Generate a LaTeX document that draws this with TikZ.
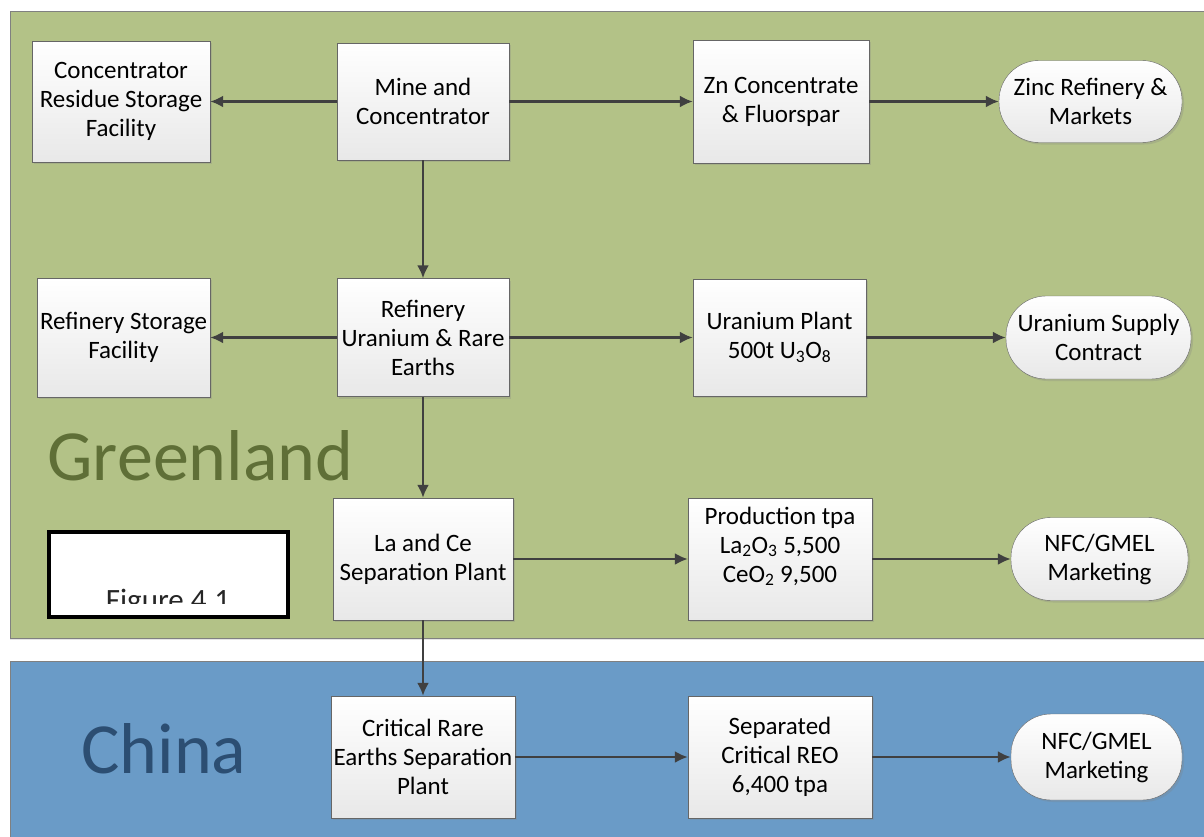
\documentclass[tikz,border=0pt]{standalone}
\usepackage{fontspec}
\setmainfont{Carlito}
\usetikzlibrary{arrows.meta,shadows}

\definecolor{panelgreen}{HTML}{B3C287}
\definecolor{greentext}{HTML}{5F6F37}
\definecolor{panelblue}{HTML}{6A9BC7}
\definecolor{bluetext}{HTML}{2C4E72}
\definecolor{arrowgray}{HTML}{404040}

\begin{document}
\begin{tikzpicture}[x=1pt,y=-1pt,
  box/.style={draw=black!60, top color=white, bottom color=black!9,
    drop shadow={shadow xshift=2pt,shadow yshift=-2pt,opacity=0.25},
    align=center, inner sep=1pt, text=black,
    font=\fontsize{25}{29}\selectfont},
  pill/.style={box, rounded corners=40pt},
  flow/.style={draw=arrowgray, line width=2.4pt, -{Latex[length=13pt,width=12pt]}},
  region/.style={font=\fontsize{72}{72}\selectfont, anchor=base west}]
\clip (0,0) rectangle (1204,836);

% Background panels
\fill[white] (0,0) rectangle (1204,836);
\draw[draw=black!50, fill=panelgreen, drop shadow={shadow xshift=0pt,shadow yshift=-2pt,opacity=0.2}] (10,11) rectangle (1230,638);
\draw[draw=black!50, fill=panelblue] (10,661) rectangle (1230,860);

% Region labels
\node[region, text=greentext] at (44,480) (greenland) {Greenland};
\node[region, text=bluetext] at (78,773) (china) {China};

% Row 1
\node[box, minimum width=178pt, minimum height=121pt] at (121,101.5) (residue) {Concentrator\\Residue Storage\\Facility};
\node[box, minimum width=172pt, minimum height=117pt] at (423,101.5) (mine) {Mine and\\Concentrator};
\node[box, minimum width=176pt, minimum height=123pt] at (781,101.5) (zn) {Zn Concentrate\\\& Fluorspar};
\node[pill, minimum width=183pt, minimum height=82pt] at (1090.5,101.5) (zinc) {Zinc Refinery \&\\Markets};

% Row 2
\node[box, minimum width=173pt, minimum height=119pt] at (123.5,337.5) (rstore) {Refinery Storage\\Facility};
\node[box, minimum width=172pt, minimum height=118pt] at (423,337.5) (refinery) {Refinery\\Uranium \& Rare\\Earths};
\node[box, minimum width=173pt, minimum height=117pt] at (779.5,337.5) (uplant) {Uranium Plant\\500t U\textsubscript{3}O\textsubscript{8}};
\node[pill, minimum width=185pt, minimum height=83pt] at (1098.5,337.5) (usupply) {Uranium Supply\\Contract};

% Row 3
\node[box, minimum width=180pt, minimum height=122pt] at (423,559) (lace) {La and Ce\\Separation Plant};
\node[box, minimum width=184pt, minimum height=122pt] at (780,559) (prod) {Production tpa\\La\textsubscript{2}O\textsubscript{3} 5,500\\CeO\textsubscript{2} 9,500\\\mbox{}};
\node[pill, minimum width=177pt, minimum height=83pt] at (1099.5,559) (nfcgreen) {NFC/GMEL\\Marketing};

% Row 4 (China)
\node[box, minimum width=184pt, minimum height=122pt] at (423,757) (critical) {Critical Rare\\Earths Separation\\Plant};
\node[box, minimum width=184pt, minimum height=122pt] at (780,757) (separated) {Separated\\Critical REO\\6,400 tpa};
\node[pill, minimum width=171pt, minimum height=86pt] at (1096.5,757) (nfcblue) {NFC/GMEL\\Marketing};

% Figure caption box
\draw[line width=4pt, fill=white] (49,532) rectangle (288,617);
\begin{scope}
\clip (52,535) rectangle (285,603);
\node[font=\fontsize{31}{36}\selectfont, text=black!85, anchor=base] at (168,610) (figlabel) {Figure 4.1};
\end{scope}

% Flows
\draw[flow] (mine) -- (residue);
\draw[flow] (mine) -- (zn);
\draw[flow] (zn) -- (zinc);
\draw[flow] (mine) -- (refinery);
\draw[flow] (refinery) -- (rstore);
\draw[flow] (refinery) -- (uplant);
\draw[flow] (uplant) -- (usupply);
\draw[flow] (refinery) -- (lace);
\draw[flow] (lace) -- (prod);
\draw[flow] (prod) -- (nfcgreen);
\draw[flow] (lace) -- (critical);
\draw[flow] (critical) -- (separated);
\draw[flow] (separated) -- (nfcblue);

\end{tikzpicture}
\end{document}
